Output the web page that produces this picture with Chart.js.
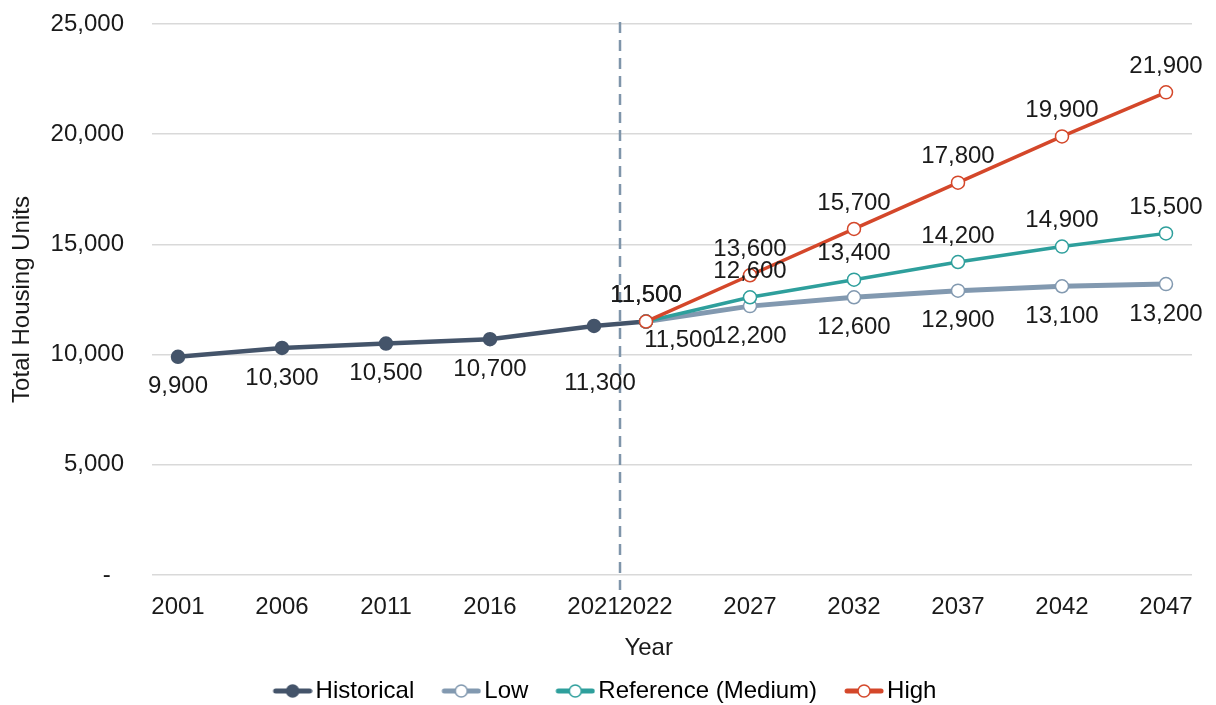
<!DOCTYPE html>
<html>
<head>
<meta charset="utf-8">
<title>Total Housing Units</title>
<script src="https://cdn.jsdelivr.net/npm/chart.js@4.4.1/dist/chart.umd.min.js"></script>
<style>
  html, body { margin: 0; padding: 0; background: #fff; }
  #wrap { width: 1216px; height: 705px; }
</style>
</head>
<body>
<div id="wrap"><canvas id="housingChart" width="1216" height="705"></canvas></div>
<script>
// --- data ---
const histYears = [2001, 2006, 2011, 2016, 2021, 2022];
const histUnits = [9900, 10300, 10500, 10700, 11300, 11500];
const projYears = [2022, 2027, 2032, 2037, 2042, 2047];
const lowUnits = [11500, 12200, 12600, 12900, 13100, 13200];
const refUnits = [11500, 12600, 13400, 14200, 14900, 15500];
const highUnits = [11500, 13600, 15700, 17800, 19900, 21900];
const tickYears = [2001, 2006, 2011, 2016, 2021, 2022, 2027, 2032, 2037, 2042, 2047];
const yTicks = [0, 5000, 10000, 15000, 20000, 25000];

// the axis is split: a 5-year step takes two slots, 2021 -> 2022 takes one
function slotOf(year) {
  return year <= 2021 ? (year - 2001) / 2.5 : 9 + (year - 2022) / 2.5;
}
const SPLIT_SLOT = 8.5; // dashed line between historical and projected

const FONT = "'Liberation Sans', Arial, Helvetica, sans-serif";
Chart.defaults.font.family = FONT;
Chart.defaults.font.size = 24;
Chart.defaults.color = '#1a1a1a';

const series = [
  { label: 'Historical', years: histYears, values: histUnits, color: '#44546A', fill: '#44546A', width: 4.5, side: 'below' },
  { label: 'Low', years: projYears, values: lowUnits, color: '#8299B0', fill: '#ffffff', width: 5, side: 'below' },
  { label: 'Reference (Medium)', years: projYears, values: refUnits, color: '#2E9F9C', fill: '#ffffff', width: 3.5, side: 'above' },
  { label: 'High', years: projYears, values: highUnits, color: '#D4472A', fill: '#ffffff', width: 3.5, side: 'above' }
];

// hand-placed value labels where they would collide
const labelNudge = {
  'Historical:4': [6, 27],
  'Historical:5': 'skip',
  'Low:0': [34, -11]
};

// legend swatch: short line with the marker on it, drawn in the right 40px
const SWATCH_BOX = 48;
function legendIcon(color, fill) {
  const c = document.createElement('canvas');
  c.width = SWATCH_BOX + 18; c.height = 18;
  const g = c.getContext('2d');
  const x0 = c.width - 40;
  g.strokeStyle = color;
  g.lineWidth = 5;
  g.lineCap = 'round';
  g.beginPath(); g.moveTo(x0 + 3, 9); g.lineTo(x0 + 37, 9); g.stroke();
  g.beginPath(); g.arc(x0 + 20, 9, 6, 0, Math.PI * 2);
  g.fillStyle = fill; g.fill();
  g.lineWidth = 1.5; g.stroke();
  return c;
}

const splitLine = {
  id: 'splitLine',
  beforeDatasetsDraw(chart) {
    const { ctx, chartArea, scales } = chart;
    const x = Math.round(scales.x.getPixelForValue(SPLIT_SLOT));
    ctx.save();
    ctx.strokeStyle = '#7F95AA';
    ctx.lineWidth = 2.5;
    ctx.setLineDash([11, 7]);
    ctx.beginPath();
    ctx.moveTo(x, chartArea.top - 2);
    ctx.lineTo(x, chartArea.bottom + 15);
    ctx.stroke();
    ctx.restore();
  }
};

const valueLabels = {
  id: 'valueLabels',
  afterDatasetsDraw(chart) {
    const { ctx } = chart;
    ctx.save();
    ctx.font = '24px ' + FONT;
    ctx.fillStyle = '#1a1a1a';
    ctx.textAlign = 'center';
    ctx.textBaseline = 'middle';
    chart.data.datasets.forEach((ds, di) => {
      const meta = chart.getDatasetMeta(di);
      meta.data.forEach((pt, i) => {
        const nudge = labelNudge[ds.label + ':' + i];
        if (nudge === 'skip') return;
        const [dx, dy] = nudge || [0, 0];
        const base = ds.side === 'above' ? -26 : 30;
        ctx.fillText(ds.data[i].y.toLocaleString('en-US'), pt.x + dx, pt.y + base + dy);
      });
    });
    ctx.restore();
  }
};

new Chart(document.getElementById('housingChart'), {
  type: 'line',
  data: {
    // later series sit on top (High marker covers the shared 2022 point)
    datasets: series.map((s, i) => ({
      label: s.label,
      side: s.side,
      order: series.length - i,
      data: s.years.map((yr, j) => ({ x: slotOf(yr), y: s.values[j] })),
      borderColor: s.color,
      backgroundColor: s.fill,
      borderWidth: s.width,
      pointRadius: 6.5,
      pointBorderWidth: 1.5,
      pointBorderColor: s.color,
      pointBackgroundColor: s.fill,
      tension: 0,
      fill: false
    }))
  },
  options: {
    responsive: false,
    animation: false,
    layout: { padding: { top: 24, right: 24, left: 0, bottom: -8 } },
    plugins: {
      tooltip: { enabled: false },
      legend: {
        position: 'bottom',
        labels: {
          usePointStyle: true,
          pointStyleWidth: SWATCH_BOX,
          padding: 10,
          color: '#1a1a1a',
          font: { size: 24 },
          generateLabels(chart) {
            return series.map((s, i) => ({
              text: s.label,
              pointStyle: legendIcon(s.color, s.fill),
              fillStyle: s.fill,
              strokeStyle: s.color,
              lineWidth: 0,
              hidden: false,
              datasetIndex: i
            }));
          }
        }
      }
    },
    scales: {
      x: {
        type: 'linear',
        min: -0.5,
        max: 19.5,
        grid: { display: false },
        border: { display: false },
        afterBuildTicks(scale) {
          scale.ticks = tickYears.map(yr => ({ value: slotOf(yr) }));
        },
        afterFit(scale) { scale.height = 94; },
        ticks: {
          autoSkip: false,
          maxRotation: 0,
          padding: 10,
          color: '#1a1a1a',
          callback(value) {
            const yr = tickYears.find(y => slotOf(y) === value);
            return yr === undefined ? '' : String(yr);
          }
        },
        title: { display: true, text: 'Year' + ' '.repeat(7), color: '#1a1a1a', padding: { top: 0, bottom: 6 } }
      },
      y: {
        min: 0,
        max: 25000,
        afterBuildTicks(scale) {
          scale.ticks = yTicks.map(v => ({ value: v }));
        },
        afterFit(scale) {
          scale.width = 152;
          scale.paddingTop = 0;
          scale.paddingBottom = 0;
        },
        grid: { color: '#D9D9D9', lineWidth: 1.5, drawTicks: false },
        border: { display: false },
        ticks: {
          padding: 28,
          color: '#1a1a1a',
          callback(value) { return value === 0 ? '-  ' : value.toLocaleString('en-US'); }
        },
        title: { display: true, text: 'Total Housing Units', color: '#1a1a1a', padding: { top: 8, bottom: 0 } }
      }
    }
  },
  plugins: [splitLine, valueLabels]
});
</script>
</body>
</html>
